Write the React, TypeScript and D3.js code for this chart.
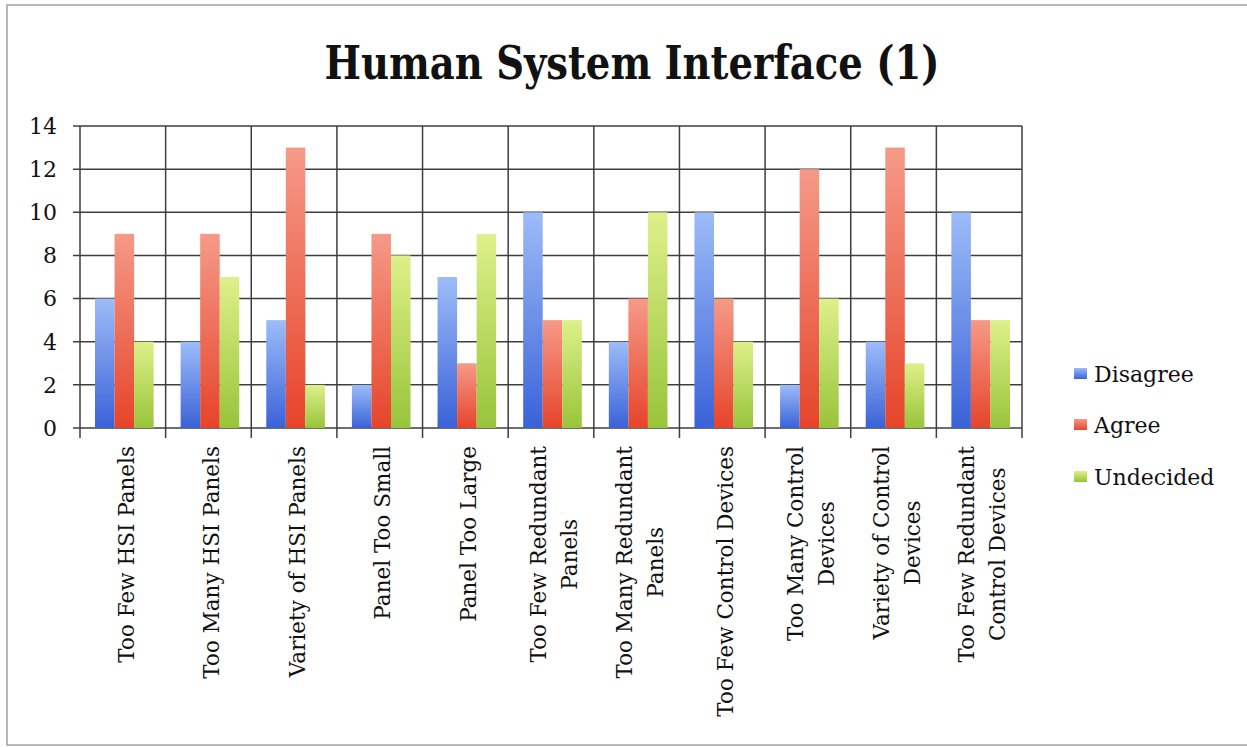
import React, { useEffect, useRef } from "react";
import * as d3 from "d3";

const categories: string[][] = [
  ["Too Few HSI Panels"],
  ["Too Many HSI Panels"],
  ["Variety of HSI Panels"],
  ["Panel Too Small"],
  ["Panel Too Large"],
  ["Too Few Redundant", "Panels"],
  ["Too Many Redundant", "Panels"],
  ["Too Few Control Devices"],
  ["Too Many Control", "Devices"],
  ["Variety of Control", "Devices"],
  ["Too Few Redundant", "Control Devices"],
];
const seriesNames = ["Disagree", "Agree", "Undecided"];
const disagree = [6, 4, 5, 2, 7, 10, 4, 10, 2, 4, 10];
const agree = [9, 9, 13, 9, 3, 5, 6, 6, 12, 13, 5];
const undecided = [4, 7, 2, 8, 9, 5, 10, 4, 6, 3, 5];
const yTicks = [0, 2, 4, 6, 8, 10, 12, 14];
const title = "Human System Interface (1)";

const seriesValues = [disagree, agree, undecided];
const gradients = [
  ["#9dbcf8", "#3a62d8"],
  ["#f59a88", "#e6442a"],
  ["#def08a", "#98c43a"],
];

const FONT = "'DejaVu Serif', serif";

export default function App() {
  const ref = useRef<SVGSVGElement>(null);
  useEffect(() => {
    const svg = d3.select(ref.current);
    svg.selectAll("*").remove();
    const W = 1247, H = 747;
    const left = 80, right = 1022, top = 126, bottom = 428;

    const defs = svg.append("defs");
    gradients.forEach((g, i) => {
      const lg = defs.append("linearGradient").attr("id", "g" + i)
        .attr("x1", 0).attr("y1", 0).attr("x2", 0).attr("y2", 1);
      lg.append("stop").attr("offset", "0%").attr("stop-color", g[0]);
      lg.append("stop").attr("offset", "100%").attr("stop-color", g[1]);
    });

    svg.append("rect").attr("x", 0).attr("y", 0).attr("width", W).attr("height", H).attr("fill", "#fff");
    svg.append("rect").attr("x", 7).attr("y", 5).attr("width", 1260).attr("height", 740)
      .attr("fill", "none").attr("stroke", "#a0a0a0").attr("stroke-width", 1.5);

    svg.append("text").attr("x", 632).attr("y", 79).attr("text-anchor", "middle")
      .attr("font-family", FONT).attr("font-weight", "bold").attr("font-size", 47)
      .attr("textLength", 615).attr("lengthAdjust", "spacingAndGlyphs")
      .attr("fill", "#111").text(title);

    const idx = categories.map((_, i) => String(i));
    const x0 = d3.scaleBand().domain(idx).range([left, right]).padding(0);
    const bw = x0.bandwidth();
    const x1 = d3.scaleBand().domain(seriesNames).range([15, bw - 12]).padding(0);
    const y = d3.scaleLinear().domain([0, 14]).range([bottom, top]);

    const grid = svg.append("g").attr("stroke", "#3e3e3e").attr("stroke-width", 1.5);
    yTicks.forEach((t) => {
      grid.append("line").attr("x1", left - 7).attr("x2", right).attr("y1", y(t)).attr("y2", y(t));
    });
    for (let i = 0; i <= categories.length; i++) {
      const xx = left + i * bw;
      grid.append("line").attr("x1", xx).attr("x2", xx).attr("y1", top).attr("y2", bottom + 10);
    }

    const bars = svg.append("g");
    seriesValues.forEach((vals, s) => {
      vals.forEach((v, i) => {
        bars.append("rect")
          .attr("x", (x0(String(i)) as number) + (x1(seriesNames[s]) as number))
          .attr("y", y(v)).attr("width", x1.bandwidth()).attr("height", y(0) - y(v))
          .attr("fill", `url(#g${s})`);
      });
    });

    yTicks.forEach((t) => {
      svg.append("text").attr("x", 57).attr("y", y(t)).attr("dy", "0.36em")
        .attr("text-anchor", "end").attr("font-family", FONT).attr("font-size", 22)
        .attr("fill", "#111").text(String(t));
    });

    const fs = 21.5;
    const lh = 31;
    categories.forEach((lines, i) => {
      const cx = (x0(String(i)) as number) + bw / 2;
      const g = svg.append("g");
      const texts = lines.map((ln) =>
        g.append("text").attr("font-family", FONT).attr("font-size", fs)
          .attr("text-anchor", "middle").attr("fill", "#111").text(ln)
      );
      const maxW = d3.max(texts, (t) => (t.node() as SVGTextElement).getComputedTextLength()) || 0;
      const n = lines.length;
      texts.forEach((t, k) => {
        const bx = cx + 3 + (k - (n - 1) / 2) * lh + fs * 0.36;
        const cy = 446 + maxW / 2;
        t.attr("transform", `translate(${bx},${cy}) rotate(-90)`);
      });
    });

    seriesNames.forEach((nm, s) => {
      const ly = [382, 433, 485][s];
      svg.append("rect").attr("x", 1074).attr("y", ly - 14).attr("width", 13).attr("height", 11)
        .attr("fill", `url(#g${s})`);
      svg.append("text").attr("x", 1094).attr("y", ly).attr("font-family", FONT)
        .attr("font-size", 22).attr("fill", "#111").text(nm);
    });
  }, []);
  return (
    <svg ref={ref} width={1247} height={747}
      style={{ position: "absolute", left: 0, top: 0, display: "block" }} />
  );
}
